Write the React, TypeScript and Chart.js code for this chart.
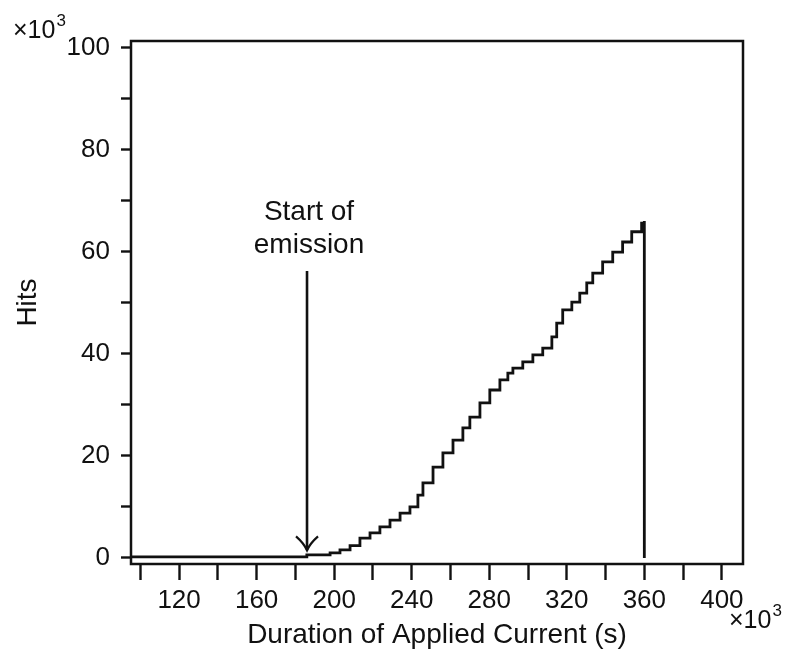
import React, { useEffect, useRef } from "react";
import { Chart, registerables } from "chart.js";

Chart.register(...registerables);

// Duration of applied current (×10^3 s)
const durationK = [
  95, 185.9, 197.9, 203, 208.2, 213.3, 218.5, 223.6, 228.8, 234, 239.1, 243.2,
  245.8, 251, 256.1, 261.3, 266.4, 270, 275.2, 280.3, 285.5, 289.6, 292.2,
  297.3, 302.5, 307.6, 312.3, 314.8, 317.9, 322.6, 326.7, 330.3, 333.4, 338.5,
  343.7, 348.8, 353.5, 358.6, 360, 360,
];
// Cumulative hits (×10^3)
const hitsK = [
  0.2, 0.6, 1.0, 1.6, 2.4, 3.9, 4.9, 6.1, 7.4, 8.8, 10.0, 12.3, 14.7, 17.8,
  20.6, 23.1, 25.5, 27.6, 30.4, 32.9, 34.9, 36.2, 37.2, 38.4, 39.8, 41.1, 43.3,
  46.0, 48.6, 50.1, 51.9, 53.9, 55.8, 58.0, 59.9, 61.9, 63.9, 65.6, 66.0, 0,
];

const xRange = [95.2, 410.9];
const yRange = [-1.18, 101.27];
const xLabelTicks = [120, 160, 200, 240, 280, 320, 360, 400];
const yLabelTicks = [0, 20, 40, 60, 80, 100];

const xTitle = "Duration of Applied Current (s)";
const yTitle = "Hits";
const multiplierText = ["×10", "3"];

const annotationLines = ["Start of", "emission"];
const annotationX = 186;
const annotationTextY = [67.8, 61.3];
const arrowFromY = 56.2;
const arrowToY = 1.5;

const FONT = "'Liberation Sans', Arial, Helvetica, sans-serif";
const INK = "#111";

const overlayPlugin = {
  id: "overlay",
  afterDraw(chart: any) {
    const { ctx, chartArea, scales } = chart;
    const xs = scales.x;
    const ys = scales.y;
    ctx.save();
    // frame
    ctx.strokeStyle = INK;
    ctx.lineWidth = 2.5;
    ctx.strokeRect(chartArea.left, chartArea.top, chartArea.right - chartArea.left, chartArea.bottom - chartArea.top);

    // annotation text
    ctx.fillStyle = INK;
    ctx.font = `28px ${FONT}`;
    ctx.textAlign = "center";
    ctx.textBaseline = "middle";
    const ax = xs.getPixelForValue(annotationX);
    annotationLines.forEach((t, i) => {
      ctx.fillText(t, ax + 2, ys.getPixelForValue(annotationTextY[i]));
    });
    // arrow
    const y0 = ys.getPixelForValue(arrowFromY);
    const y1 = ys.getPixelForValue(arrowToY);
    ctx.lineWidth = 2.6;
    ctx.beginPath();
    ctx.moveTo(ax, y0);
    ctx.lineTo(ax, y1);
    ctx.stroke();
    ctx.lineWidth = 2.2;
    ctx.beginPath();
    ctx.moveTo(ax - 11, y1 - 14);
    ctx.quadraticCurveTo(ax - 3, y1 - 7, ax, y1);
    ctx.quadraticCurveTo(ax + 3, y1 - 7, ax + 11, y1 - 14);
    ctx.stroke();

    // multipliers
    const drawMult = (x: number, y: number) => {
      ctx.textAlign = "left";
      ctx.textBaseline = "alphabetic";
      ctx.font = `25px ${FONT}`;
      ctx.fillText(multiplierText[0], x, y);
      const w = ctx.measureText(multiplierText[0]).width;
      ctx.font = `17px ${FONT}`;
      ctx.fillText(multiplierText[1], x + w + 1, y - 12);
    };
    drawMult(13, 38);
    drawMult(729, 628);
    ctx.restore();
  },
};

export default function App() {
  const ref = useRef<HTMLCanvasElement | null>(null);

  useEffect(() => {
    if (!ref.current) return;
    Chart.defaults.font.family = FONT;
    Chart.defaults.color = INK;
    const data = durationK.map((x, i) => ({ x, y: hitsK[i] }));
    const chart = new Chart(ref.current, {
      type: "line",
      data: {
        datasets: [
          {
            data,
            borderColor: INK,
            borderWidth: 2.8,
            pointRadius: 0,
            stepped: "before",
            fill: false,
          },
        ],
      },
      options: {
        animation: false,
        responsive: true,
        maintainAspectRatio: false,
        layout: { padding: { left: 0, top: 41, right: 47, bottom: 0 } },
        plugins: { legend: { display: false }, tooltip: { enabled: false } },
        scales: {
          x: {
            type: "linear",
            min: xRange[0],
            max: xRange[1],
            afterFit: (s: any) => {
              s.height = 88;
            },
            border: { display: false },
            grid: {
              drawOnChartArea: false,
              drawTicks: true,
              tickLength: 16,
              tickWidth: 2.4,
              tickColor: INK,
            },
            ticks: {
              stepSize: 20,
              includeBounds: false,
              autoSkip: false,
              maxRotation: 0,
              padding: 5,
              font: { size: 26 },
              color: INK,
              callback: (v: any) => (xLabelTicks.includes(Number(v)) ? String(v) : ""),
            },
            title: {
              display: true,
              text: xTitle,
              font: { size: 28 },
              color: INK,
              padding: { top: 0, bottom: 0 },
            },
          },
          y: {
            type: "linear",
            min: yRange[0],
            max: yRange[1],
            afterFit: (s: any) => {
              s.width = 131;
            },
            border: { display: false },
            grid: {
              drawOnChartArea: false,
              drawTicks: true,
              tickLength: 10,
              tickWidth: 2.4,
              tickColor: INK,
            },
            ticks: {
              stepSize: 10,
              includeBounds: false,
              autoSkip: false,
              padding: 11,
              font: { size: 26 },
              color: INK,
              callback: (v: any) => (yLabelTicks.includes(Number(v)) ? String(v) : ""),
            },
            title: {
              display: true,
              text: yTitle,
              font: { size: 28 },
              color: INK,
              padding: { top: 11, bottom: 0 },
            },
          },
        },
      },
      plugins: [overlayPlugin],
    });
    return () => chart.destroy();
  }, []);

  return (
    <div style={{ position: "fixed", left: 0, top: 0, width: 790, height: 652, background: "#fff" }}>
      <canvas ref={ref} />
    </div>
  );
}
